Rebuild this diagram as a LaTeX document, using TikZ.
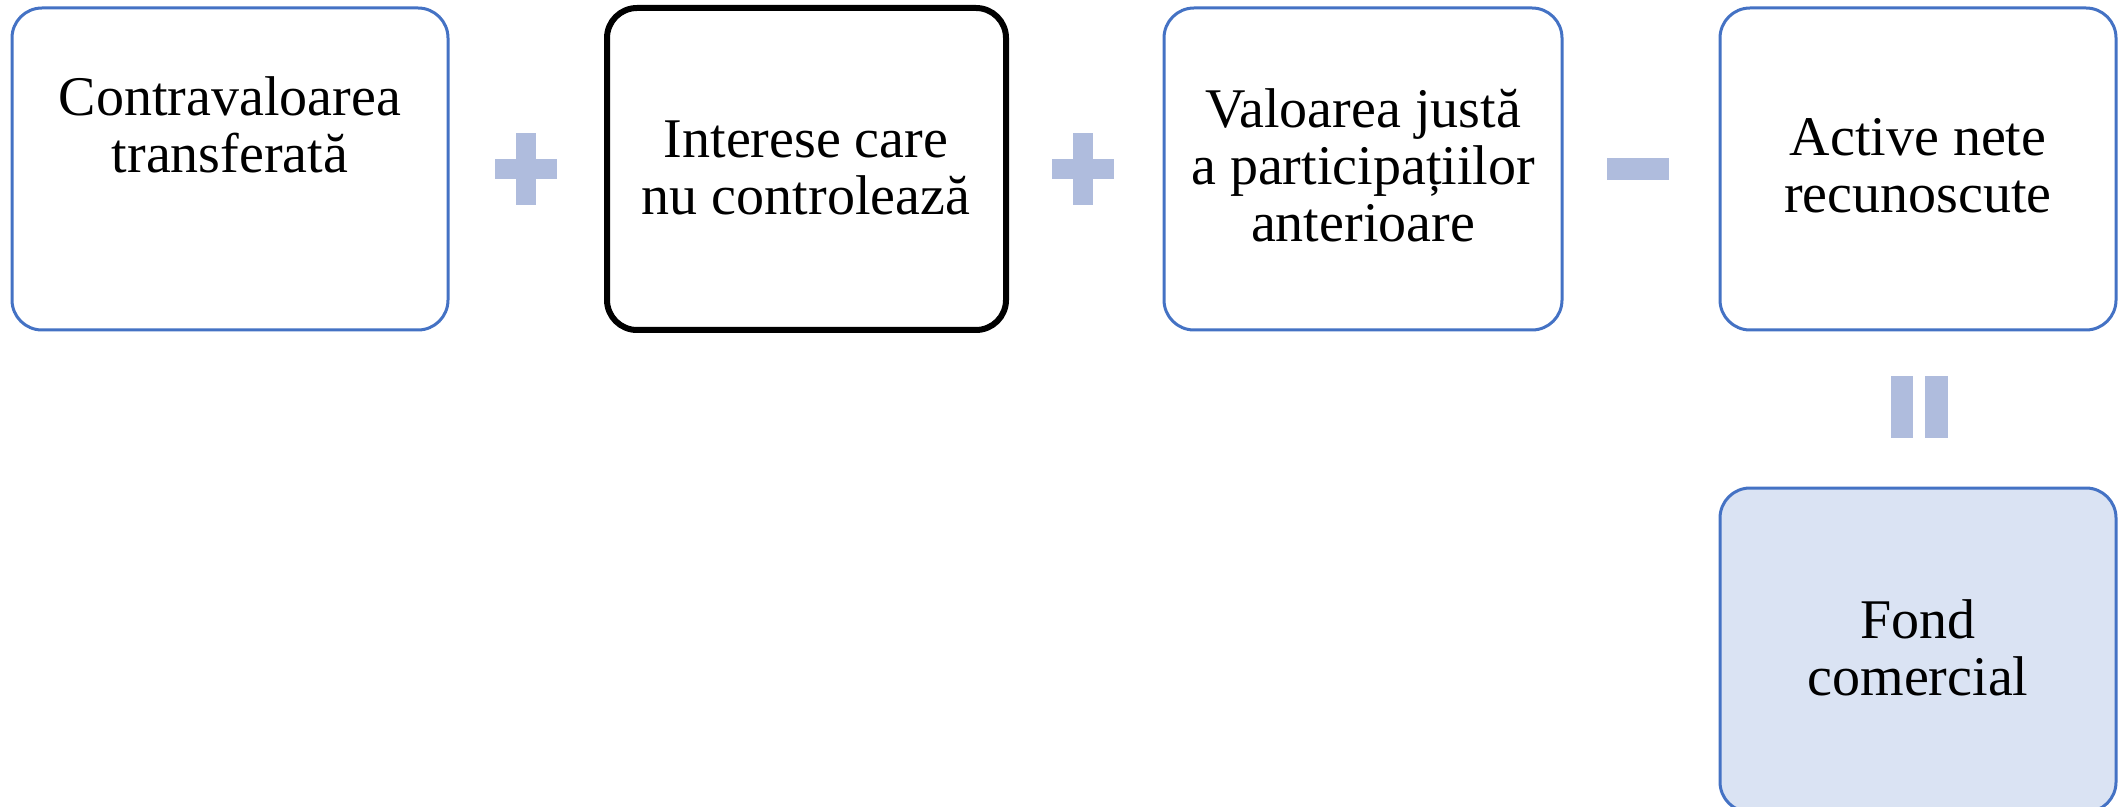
\documentclass[tikz,border=0pt]{standalone}
\usepackage{fontspec}
\setmainfont{Liberation Serif}
\definecolor{boxblue}{HTML}{4472C4}
\definecolor{signblue}{HTML}{AFBCDD}
\definecolor{lightfill}{HTML}{DAE3F3}
\tikzset{
  bluebox/.style={draw=boxblue, line width=1.5pt, rounded corners=15pt, fill=white},
  blackbox/.style={draw=black, line width=3pt, rounded corners=15pt, fill=white},
  fondbox/.style={draw=boxblue, line width=1.5pt, rounded corners=15pt, fill=lightfill},
  label/.style={align=center, anchor=base, inner sep=0pt, font=\fontsize{28}{28.5}\selectfont},
  sign/.style={fill=signblue}
}
\begin{document}
\begin{tikzpicture}[x=0.5pt, y=-0.5pt]
\useasboundingbox (0,0) rectangle (2118,807);
% boxes
\draw[bluebox] (12,8) rectangle (448,330);
\draw[blackbox] (607,8) rectangle (1006,330);
\draw[bluebox] (1164,8) rectangle (1562,330);
\draw[bluebox] (1720,8) rectangle (2116,330);
\draw[fondbox] (1720,488) rectangle (2116,812);
% texts (anchor = baseline of last line)
\node[label] (t1) at (230,173) {Contravaloarea\\transferată};
\node[label] (t2) at (806,215) {Interese care\\nu controlează};
\node[label] (t3) at (1363,242) {Valoarea justă\\a participațiilor\\anterioare};
\node[label] (t4) at (1918,213) {Active nete\\recunoscute};
\node[label] (t5) at (1918,695) {Fond\\comercial};
% plus signs
\fill[sign] (516,133) rectangle (536,205);
\fill[sign] (495,159) rectangle (557,179);
\fill[sign] (1073,133) rectangle (1093,205);
\fill[sign] (1052,159) rectangle (1114,179);
% minus sign
\fill[sign] (1607,158) rectangle (1669,180);
% equal sign
\fill[sign] (1891,376) rectangle (1913,438);
\fill[sign] (1925,376) rectangle (1948,438);
\end{tikzpicture}
\end{document}
